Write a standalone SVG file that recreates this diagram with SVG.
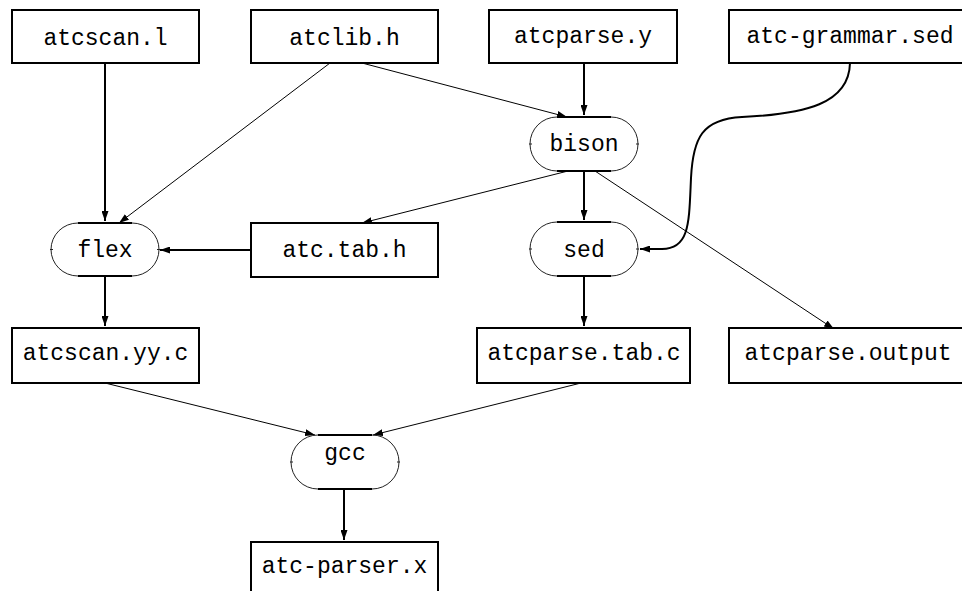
<svg xmlns="http://www.w3.org/2000/svg" width="962" height="591" viewBox="0 0 962 591">
  <style>
    .box { fill: #fff; stroke: #000; stroke-width: 2; }
    .arc { fill: none; stroke: #222; stroke-width: 1; }
    .flat { stroke: #000; stroke-width: 2; }
    .tick { stroke: #222; stroke-width: 1; }
    .lbl { font-family: "Liberation Mono", "DejaVu Sans Mono", monospace; font-size: 23px; fill: #000; text-anchor: middle; }
    .thick { fill: none; stroke: #000; stroke-width: 2; }
    .thin { fill: none; stroke: #000; stroke-width: 1; }
  </style>
  <defs>
    <marker id="arrow" markerUnits="userSpaceOnUse" markerWidth="10" markerHeight="7" refX="10" refY="3.5" orient="auto">
      <path d="M0,0 L10,3.5 L0,7 z" fill="#000"/>
    </marker>
  </defs>

  <rect width="962" height="591" fill="#fff"/>

  <!-- connectors -->
  <g id="edges">
    <path class="thick" d="M105,63 L105,221" marker-end="url(#arrow)"/>
    <path class="thin" d="M330,63 L119,223" marker-end="url(#arrow)"/>
    <path class="thin" d="M362,63 L567,117" marker-end="url(#arrow)"/>
    <path class="thick" d="M584,63 L584,115" marker-end="url(#arrow)"/>
    <path class="thick" d="M850,63 C849,104 805,114 742,117 C702,119 693,138 691,178 C689,222 690,249 662,249 L640,249" marker-end="url(#arrow)"/>
    <path class="thin" d="M568,171 L362,223" marker-end="url(#arrow)"/>
    <path class="thick" d="M584,171 L584,220" marker-end="url(#arrow)"/>
    <path class="thin" d="M595,171 L834,329" marker-end="url(#arrow)"/>
    <path class="thick" d="M251,250 L160,250" marker-end="url(#arrow)"/>
    <path class="thick" d="M105,277 L105,326" marker-end="url(#arrow)"/>
    <path class="thick" d="M584,276 L584,326" marker-end="url(#arrow)"/>
    <path class="thin" d="M105,383 L315,435" marker-end="url(#arrow)"/>
    <path class="thin" d="M581,383 L373,435" marker-end="url(#arrow)"/>
    <path class="thick" d="M344,489 L344,540" marker-end="url(#arrow)"/>
  </g>

  <!-- source files -->
  <g id="atcscan-l">
    <rect class="box" x="12" y="10" width="187" height="53"/>
    <text class="lbl" x="105.5" y="45">atcscan.l</text>
  </g>
  <g id="atclib-h">
    <rect class="box" x="251" y="10" width="187" height="53"/>
    <text class="lbl" x="344.5" y="45">atclib.h</text>
  </g>
  <g id="atcparse-y">
    <rect class="box" x="489" y="10" width="188" height="53"/>
    <text class="lbl" x="583" y="43">atcparse.y</text>
  </g>
  <g id="atc-grammar-sed">
    <rect class="box" x="729" y="10" width="242" height="53"/>
    <text class="lbl" x="850" y="43">atc-grammar.sed</text>
  </g>

  <!-- tools -->
  <g id="bison">
    <path class="arc" d="M557,117 A27,27 0 0 0 557,171 M611,117 A27,27 0 0 1 611,171"/>
    <path class="flat" d="M557,117 L611,117 M557,171 L611,171"/>
    <path class="tick" d="M529,144 L532,144 M636,144 L639,144"/>
    <text class="lbl" x="584" y="151">bison</text>
  </g>
  <g id="flex">
    <path class="arc" d="M78,223 A27,26.5 0 0 0 78,276 M132,223 A27,26.5 0 0 1 132,276"/>
    <path class="flat" d="M78,223 L132,223 M78,276 L132,276"/>
    <path class="tick" d="M50,249.5 L53,249.5 M157,249.5 L160,249.5"/>
    <text class="lbl" x="105" y="257">flex</text>
  </g>
  <g id="sed">
    <path class="arc" d="M557,222 A27,27 0 0 0 557,276 M611,222 A27,27 0 0 1 611,276"/>
    <path class="flat" d="M557,222 L611,222 M557,276 L611,276"/>
    <path class="tick" d="M529,249 L532,249 M636,249 L639,249"/>
    <text class="lbl" x="584" y="257">sed</text>
  </g>
  <g id="gcc">
    <path class="arc" d="M318,435 A27,27 0 0 0 318,489 M372,435 A27,27 0 0 1 372,489"/>
    <path class="flat" d="M318,435 L372,435 M318,489 L372,489"/>
    <path class="tick" d="M290,462 L293,462 M397,462 L400,462"/>
    <text class="lbl" x="345" y="460">gcc</text>
  </g>

  <!-- generated files -->
  <g id="atc-tab-h">
    <rect class="box" x="251" y="223" width="187" height="54"/>
    <text class="lbl" x="344.5" y="257">atc.tab.h</text>
  </g>
  <g id="atcscan-yy-c">
    <rect class="box" x="12" y="328" width="187" height="55"/>
    <text class="lbl" x="105.5" y="360">atcscan.yy.c</text>
  </g>
  <g id="atcparse-tab-c">
    <rect class="box" x="477" y="328" width="213" height="55"/>
    <text class="lbl" x="584" y="360">atcparse.tab.c</text>
  </g>
  <g id="atcparse-output">
    <rect class="box" x="729" y="328" width="240" height="55"/>
    <text class="lbl" x="848" y="360">atcparse.output</text>
  </g>
  <g id="atc-parser-x">
    <rect class="box" x="251" y="542" width="187" height="55"/>
    <text class="lbl" x="344.5" y="573">atc-parser.x</text>
  </g>
</svg>
